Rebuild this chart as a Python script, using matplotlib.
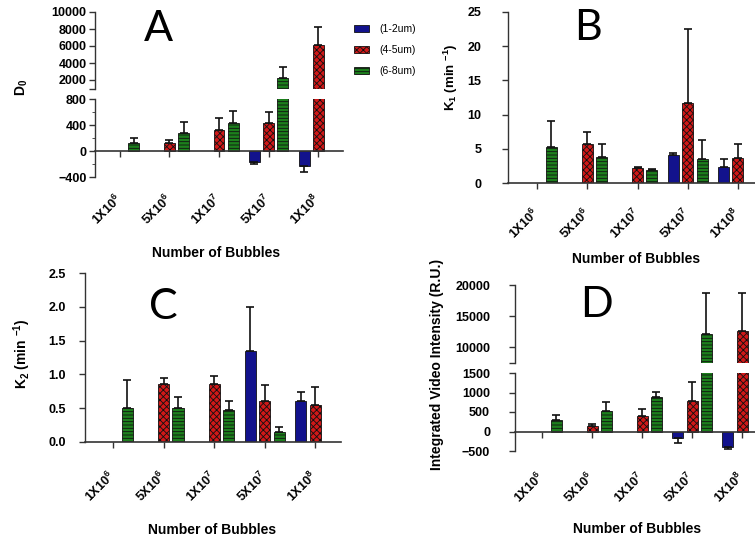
import numpy as np
import matplotlib
matplotlib.use("Agg")
import matplotlib.pyplot as plt
from matplotlib.patches import Patch

plt.rcParams['font.family'] = ['Liberation Sans', 'DejaVu Sans']
plt.rcParams['mathtext.fontset'] = 'custom'
plt.rcParams['mathtext.rm'] = 'Liberation Sans'
plt.rcParams['mathtext.bf'] = 'Liberation Sans:bold'
plt.rcParams['mathtext.it'] = 'Liberation Sans:italic'
plt.rcParams['hatch.linewidth'] = 0.6

# ---------------- data ----------------
categories = [r'$\mathbf{1X10^{6}}$', r'$\mathbf{5X10^{6}}$', r'$\mathbf{1X10^{7}}$',
              r'$\mathbf{5X10^{7}}$', r'$\mathbf{1X10^{8}}$']
series_names = ['(1-2um)', '(4-5um)', '(6-8um)']
nan = np.nan

# Panel A : D0
a_blue = [nan, nan, nan, -170, -230]
a_blue_err = [0, 0, 0, 30, 95]
a_red = [nan, 120, 320, 430, 6120]
a_red_err = [0, 50, 190, 170, 2150]
a_green = [120, 275, 430, 2270, nan]
a_green_err = [80, 170, 185, 1290, 0]

# Panel B : K1
b_blue = [nan, nan, nan, 4.1, 2.4]
b_blue_err = [0, 0, 0, 0.3, 1.15]
b_red = [nan, 5.7, 2.15, 11.7, 3.6]
b_red_err = [0, 1.8, 0.15, 10.8, 2.05]
b_green = [5.3, 3.85, 1.9, 3.45, nan]
b_green_err = [3.8, 1.85, 0.1, 2.85, 0]

# Panel C : K2
c_blue = [nan, nan, nan, 1.34, 0.60]
c_blue_err = [0, 0, 0, 0.66, 0.145]
c_red = [nan, 0.86, 0.86, 0.61, 0.54]
c_red_err = [0, 0.085, 0.12, 0.235, 0.27]
c_green = [0.50, 0.50, 0.475, 0.153, nan]
c_green_err = [0.42, 0.17, 0.135, 0.074, 0]

# Panel D : Integrated video intensity
d_blue = [nan, nan, nan, -162, -385]
d_blue_err = [0, 0, 0, 138, 59]
d_red = [nan, 136, 385, 777, 12580]
d_red_err = [0, 61, 197, 505, 6180]
d_green = [300, 513, 880, 12210, nan]
d_green_err = [128, 238, 128, 6550, 0]

# ---------------- style ----------------
W, H = 755, 545
BLUE = '#12128c'
RED = '#d01818'
GREEN = '#1c7f1c'
SPINE = '#333333'
offsets = [-0.285, 0.0, 0.285]
bar_w = 0.22
styles = [dict(color=BLUE, hatch=None),
          dict(color=RED, hatch='xxxxx'),
          dict(color=GREEN, hatch='-----')]
YTICK_FS = 9

fig = plt.figure(figsize=(W / 100, H / 100), dpi=100)


def rect(x0, x1, y0, y1):
    return [x0 / W, 1 - y1 / H, (x1 - x0) / W, (y1 - y0) / H]


def draw(ax, data):
    x = np.arange(len(categories))
    for (vals, errs), off, st in zip(data, offsets, styles):
        vals = np.array(vals, dtype=float)
        errs = np.array(errs, dtype=float)
        lo = np.where(vals < 0, errs, 0)
        hi = np.where(vals >= 0, errs, 0)
        ax.bar(x + off, vals, width=bar_w, color=st['color'], edgecolor='#111111',
               linewidth=0.6, hatch=st['hatch'], zorder=2)
        m = ~np.isnan(vals)
        ax.errorbar((x + off)[m], vals[m], yerr=[lo[m], hi[m]], fmt='none',
                    ecolor='#111111', elinewidth=1.2, capsize=3, capthick=1.2, zorder=3)


def style_common(ax):
    for s in ['top', 'right']:
        ax.spines[s].set_visible(False)
    ax.spines['left'].set_color(SPINE)
    ax.spines['bottom'].set_color(SPINE)
    ax.spines['left'].set_linewidth(1.0)
    ax.spines['bottom'].set_linewidth(1.2)
    ax.tick_params(axis='both', colors=SPINE, labelcolor='black', length=4, width=1)


def bold_y(ax, pad):
    ax.tick_params(axis='y', labelsize=YTICK_FS, pad=pad)
    for lab in ax.get_yticklabels():
        lab.set_fontweight('bold')


def set_xcats(ax, xlim, pad):
    ax.set_xlim(*xlim)
    ax.set_xticks(np.arange(len(categories)))
    ax.set_xticklabels(categories, fontsize=9, rotation=45, ha='right',
                       va='center', rotation_mode='anchor')
    ax.tick_params(axis='x', pad=pad)


def upper_style(ax, xlim):
    style_common(ax)
    ax.spines['bottom'].set_visible(False)
    ax.set_xlim(*xlim)
    ax.set_xticks([])


# ---------------- Panel A ----------------
dataA = [(a_blue, a_blue_err), (a_red, a_red_err), (a_green, a_green_err)]
xlimA = (-0.5, 4.5)
axAu = fig.add_axes(rect(95, 343, 12, 88.5))
axAl = fig.add_axes(rect(95, 343, 99, 177))
for ax in (axAu, axAl):
    draw(ax, dataA)
axAu.set_ylim(1000, 10000)
axAu.set_yticks([1000, 2000, 4000, 6000, 8000, 10000])
axAu.set_yticklabels(['', '2000', '4000', '6000', '8000', '10000'])
upper_style(axAu, xlimA)
axAl.set_ylim(-400, 800)
axAl.set_yticks([-400, 0, 400, 800])
axAl.set_yticks([-200, 200, 600], minor=True)
style_common(axAl)
axAl.spines['bottom'].set_position(('data', 0))
axAl.tick_params(axis='y', which='minor', length=2.5, colors=SPINE)
set_xcats(axAl, xlimA, 29)
for ax in (axAu, axAl):
    bold_y(ax, 2)

# ---------------- Panel B ----------------
dataB = [(b_blue, b_blue_err), (b_red, b_red_err), (b_green, b_green_err)]
axB = fig.add_axes(rect(508, 755, 12, 183))
draw(axB, dataB)
axB.set_ylim(0, 25)
axB.set_yticks([0, 5, 10, 15, 20, 25])
style_common(axB)
set_xcats(axB, (-0.58, 4.34), 16)
bold_y(axB, 15)

# ---------------- Panel C ----------------
dataC = [(c_blue, c_blue_err), (c_red, c_red_err), (c_green, c_green_err)]
axC = fig.add_axes(rect(85, 341, 273, 442))
draw(axC, dataC)
axC.set_ylim(0, 2.5)
axC.set_yticks([0, 0.5, 1.0, 1.5, 2.0, 2.5])
axC.set_yticklabels(['0.0', '0.5', '1.0', '1.5', '2.0', '2.5'])
style_common(axC)
set_xcats(axC, (-0.555, 4.51), 19)
bold_y(axC, 10)

# ---------------- Panel D ----------------
dataD = [(d_blue, d_blue_err), (d_red, d_red_err), (d_green, d_green_err)]
xlimD = (-0.54, 4.26)
axDu = fig.add_axes(rect(515, 755, 285, 363))
axDl = fig.add_axes(rect(515, 755, 373, 451))
for ax in (axDu, axDl):
    draw(ax, dataD)
axDu.set_ylim(7500, 20000)
axDu.set_yticks([7500, 10000, 15000, 20000])
axDu.set_yticklabels(['', '10000', '15000', '20000'])
upper_style(axDu, xlimD)
axDl.set_ylim(-500, 1500)
axDl.set_yticks([-500, 0, 500, 1000, 1500])
style_common(axDl)
axDl.spines['bottom'].set_position(('data', 0))
set_xcats(axDl, xlimD, 27)
for ax in (axDu, axDl):
    bold_y(ax, 14)

# ---------------- texts ----------------
def ftext(x, y, s, **kw):
    fig.text(x / W, 1 - y / H, s, ha='center', va='center', **kw)

for (x, y, s) in [(158, 29, 'A'), (588, 28, 'B'), (163, 307, 'C'), (596, 305, 'D')]:
    ftext(x, y, s, fontsize=31, family=['Lato', 'DejaVu Sans'])

for (x, y) in [(216, 253), (636, 259), (212, 530), (637, 529)]:
    ftext(x, y, 'Number of Bubbles', fontsize=10, fontweight='bold')

ftext(22, 87, r'$\mathbf{D_0}$', fontsize=10, rotation=90)
ftext(451, 77, r'$\mathbf{K_1\ (min\ ^{-1})}$', fontsize=9.5, rotation=90)
ftext(22, 354, r'$\mathbf{K_2\ (min\ ^{-1})}$', fontsize=10, rotation=90)
ftext(437, 364, 'Integrated Video Intensity (R.U.)', fontsize=10,
      fontweight='bold', rotation=90)

handles = [Patch(facecolor=st['color'], edgecolor='#111111', hatch=st['hatch'],
                 linewidth=0.6, label=n) for st, n in zip(styles, series_names)]
fig.legend(handles=handles, loc='upper left', bbox_to_anchor=(350 / W, 1 - 20 / H),
           frameon=False, fontsize=7.5, handlelength=1.4, handleheight=0.75,
           labelspacing=1.05, handletextpad=1.0, borderaxespad=0)

fig.savefig('out.png', dpi=100)
